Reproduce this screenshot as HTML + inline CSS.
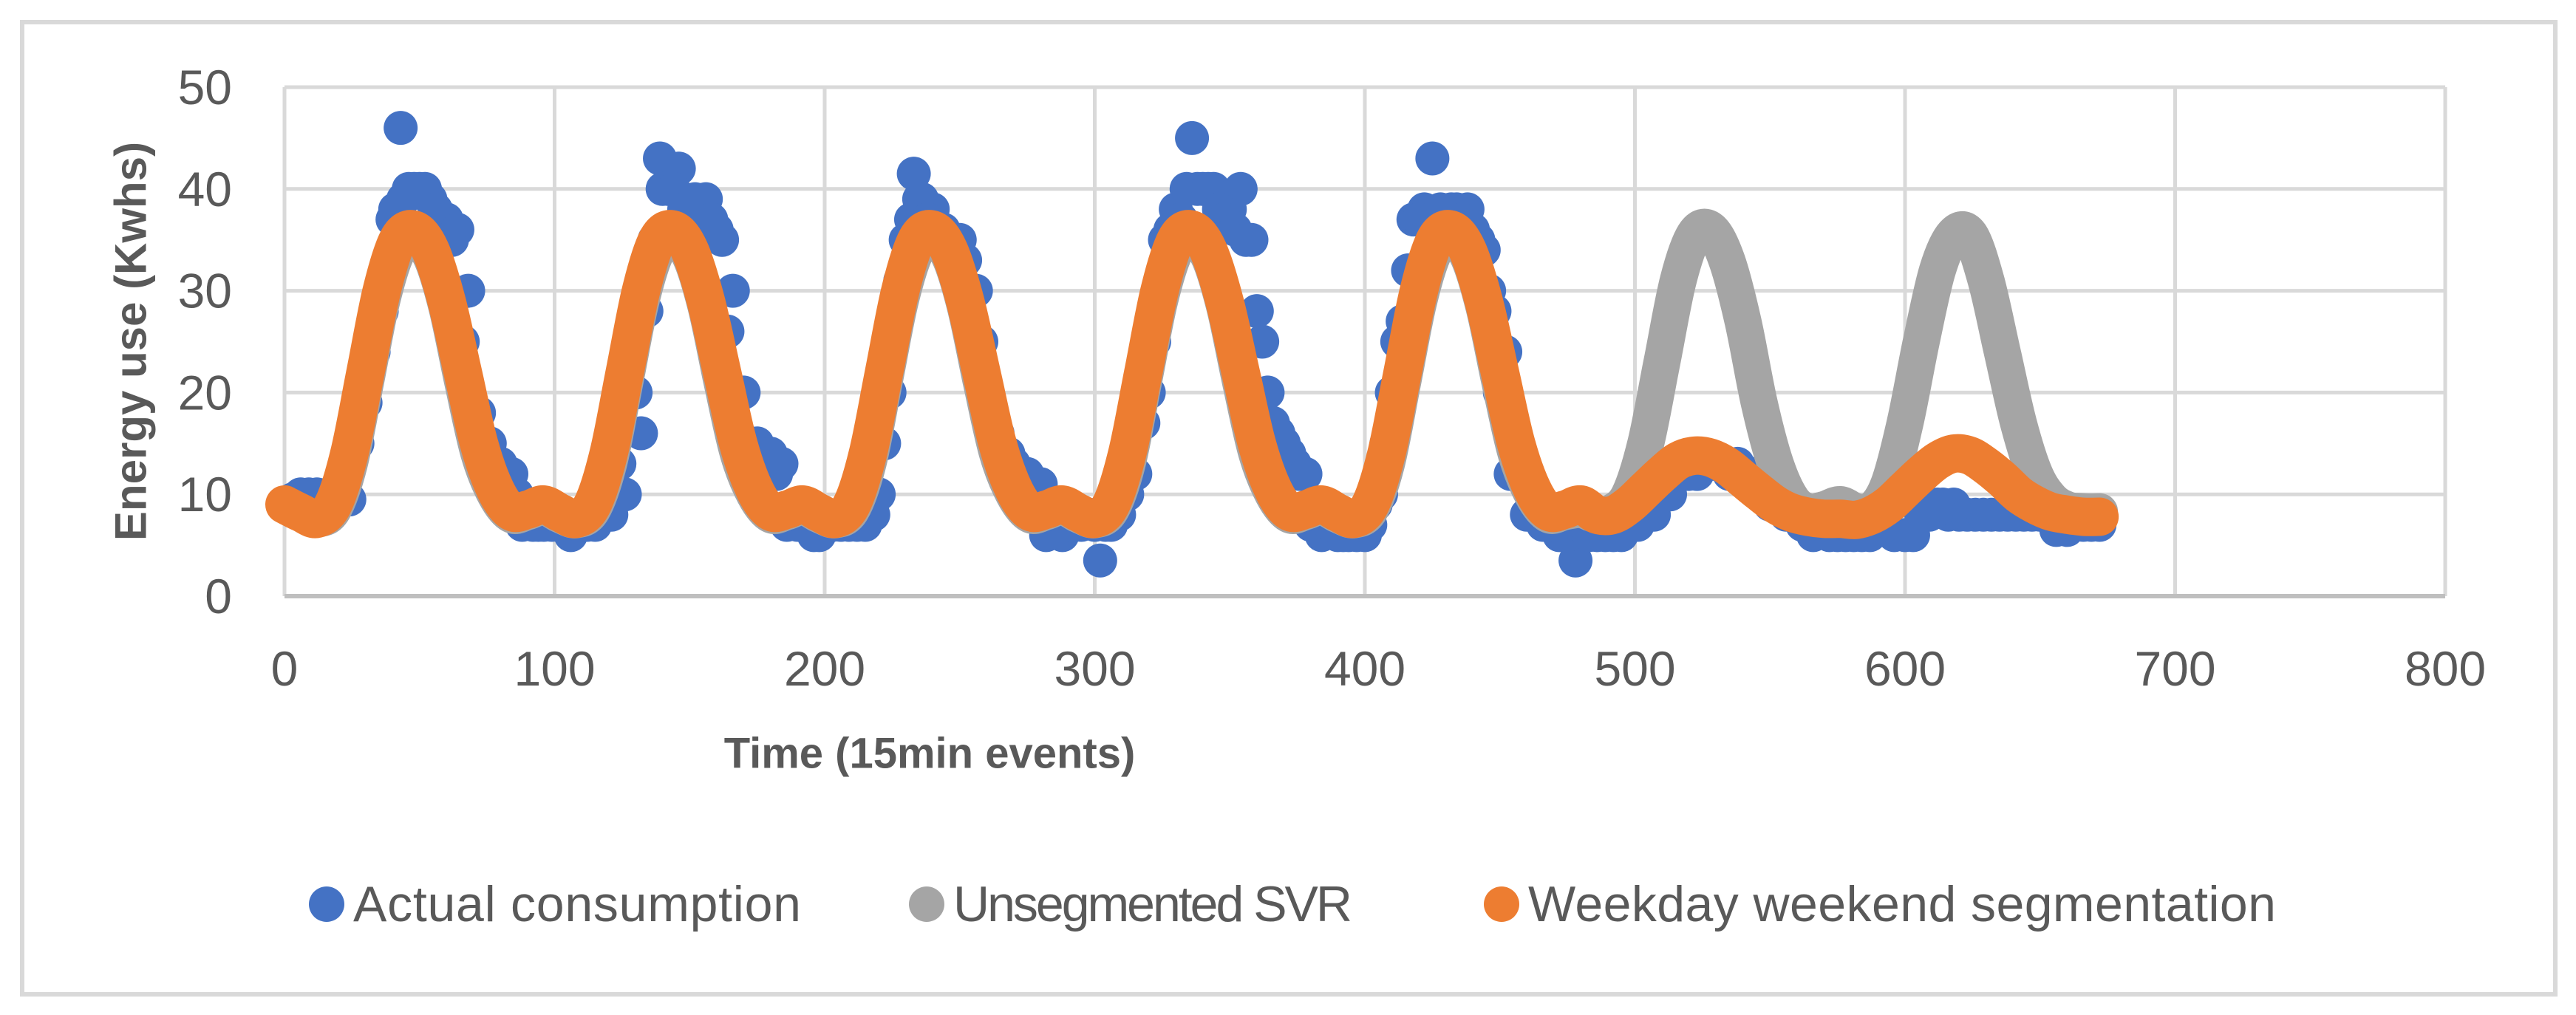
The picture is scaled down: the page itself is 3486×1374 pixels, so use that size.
<!DOCTYPE html>
<html><head><meta charset="utf-8"><style>
html,body{margin:0;padding:0;background:#fff}
svg{display:block}
text{font-family:"Liberation Sans",sans-serif;fill:#595959}
</style></head><body>
<svg id="chart" width="3486" height="1374" viewBox="0 0 3486 1374">
<rect x="30" y="30" width="3428" height="1316" fill="#fff" stroke="#d9d9d9" stroke-width="6"/>
<g id="grid"></g>
<g id="series"></g>
<g id="ticks"></g>
<text x="177" y="462" transform="rotate(-90 177 462)" text-anchor="middle" dominant-baseline="central" font-size="60" font-weight="bold">Energy use (Kwhs)</text>
<text x="1258" y="1020" text-anchor="middle" dominant-baseline="central" font-size="58" font-weight="bold">Time (15min events)</text>
<g>
<g><circle cx="442" cy="1224" r="24" fill="#4472c4"/><text x="478" y="1224" dominant-baseline="central" font-size="68" textLength="606">Actual consumption</text></g>
<g><circle cx="1254" cy="1224" r="24" fill="#a5a5a5"/><text x="1290" y="1224" dominant-baseline="central" font-size="68" textLength="540">Unsegmented SVR</text></g>
<g><circle cx="2032" cy="1224" r="24" fill="#ed7d31"/><text x="2068" y="1224" dominant-baseline="central" font-size="68" textLength="1012">Weekday weekend segmentation</text></g>
</g>
</svg>
<script>
const xTicks=[0,100,200,300,400,500,600,700,800];
const yTicks=[0,10,20,30,40,50];
const blueX=[0,6,12,18,24,30,36,40,43,46,50,54,58,62,66,70,74,78,84,88,92,
96,102,106,112,118,124,128,132,136,139,142,146,150,156,160,164,168,172,178,182,186,190,
196,200,206,212,218,222,226,230,233,236,240,244,250,256,260,266,272,278,282,288,
292,298,302,306,312,318,322,326,330,334,336,340,344,350,354,358,362,366,372,376,380,384,390,
394,400,404,408,414,418,422,425,430,434,438,442,446,450,454,460,466,472,478,480,
486,492,498,504,510,516,520,526,532,538,544,550,556,562,566,572,578,584,590,596,600,606,612,616,620,626,632,638,644,650,656,660,666,672];
const blueY=[9,10,10,10,9.5,19,28,37,46,40,40,39,37,35,25,16,14,13,12,7,7,
7,7,6,7,8,13,24,16,33,43,40,42,38,39,36,26,16,15,13,12,7,7,
6,7,7,7,8,15,28,35,41.5,39,38,36,35,30,20,14,12,10,6,6,
7,8,3.5,7,10,17,25,35,38,40,45,40,40,38,40,35,25,17,14,12,7,6,6,
6,6,9,15,27,37,38,43,37,38,38,35,30,20,12,8,7,6,3.5,6,
6,6,7,9,11,13,12,13,13,13,12,9,8,7,6,6,6,6,7,6,6,8,9,8,8,8,8,8,8,8,6.5,6.5,7,7];
const blueX2=[3,9,15,21,27,33,38,41,44,48,52,56,60,64,68,72,76,80,82,86,90,94,
99,104,109,115,121,126,130,134,137,140,144,148,152,154,158,162,166,170,175,180,184,188,
194,198,203,209,215,220,224,228,232,235,238,242,246,248,252,254,258,262,264,268,270,275,280,285,
295,300,304,309,315,320,324,328,332,338,342,346,348,352,356,360,364,368,370,374,378,382,387,
392,397,402,406,410,412,416,420,428,432,436,440,444,448,452,456,458,462,464,468,470,475,
483,489,495,501,507,513,523,529,535,541,547,553,559,569,575,581,587,593,603,609,614,618,623,629,635,641,647,653,663,669];
const blueY2=[9.5,10,9.5,10,15,24,32,38,39,40,40,38,37,36,30,18,15,13,12,10,8,7,
7,7,7,7,8,10,20,28,35,40,40,38,39,38,37,35,30,20,15,14,13,8,
7,6,7,7,7,10,20,31,37,39,37,36,35,34,33,30,25,18,16,14,13,12,11,8,
7,7,7,8,12,20,30,36,37,40,40,38,37,36,35,28,20,16,15,13,12,8,7,
6,6,7,10,20,25,32,37,38,38,37,36,34,28,24,15,12,10,9,8,7,6,
6,6,6,7,8,10,12,13,12,12,11,10,9,7,6,6,6,7,6,8,9,9,8,8,8,8,8,8,7,7];
const lineX=[0,6,12,18,24,30,36,42,48,54,60,66,72,78,84,90,
96,102,108,114,120,126,132,138,144,150,156,162,168,174,180,186,
192,198,204,210,216,222,228,234,240,246,252,258,264,270,276,282,
288,294,300,306,312,318,324,330,336,342,348,354,360,366,372,378,
384,390,396,402,408,414,420,426,432,438,444,450,456,462,468,474,
480,486,492,498,504,510,516,522,528,534,540,546,552,558,564,570,576,582,588,594,600,606,612,618,624,630,636,642,648,654,660,666,672];
const orangeY=[9,8.2,7.6,9,14,22,30,35,36,34,29,22,15,10.5,8.3,8.5,
9,8.2,7.6,9,14,22,30,35,36,34,29,22,15,10.5,8.3,8.5,
9,8.2,7.6,9,14,22,30,35,36,34,29,22,15,10.5,8.3,8.5,
9,8.2,7.6,9,14,22,30,35,36,34,29,22,15,10.5,8.3,8.5,
9,8.2,7.6,9,14,22,30,35,36,34,29,22,15,10.5,8.3,8.5,
9,8,8,9,10.5,12,13.3,13.8,13.6,12.8,11.5,10.2,9,8.2,7.8,7.6,7.6,7.5,8,9,10.5,12,13.3,14,13.8,12.8,11.5,10,9,8.3,8,7.8,7.8];
const grayY=[9,8.2,7.6,8.5,13,21,29,34,35,33.5,28.5,21,14,10,8,8.3,
8.8,8,7.5,8.5,13,21,29,34,35,33.5,28.5,21,14,10,8,8.3,
8.8,8,7.5,8.5,13,21,29,34,35,33.5,28.5,21,14,10,8,8.3,
8.8,8,7.5,8.5,13,21,29,34,35,33.5,28.5,21,14,10,8,8.3,
8.8,8,7.5,8.5,13,21,29,34,35,33.5,28.5,21,14,10,8,8.3,
8.5,8,8.3,10,15,23,31,35.5,36,33,27,19,13,9.5,8.3,8.5,9,8.3,8.5,11,17,25,32,35.5,35.5,31,24,17,12,9.5,8.5,8.3,8.3];
const NS='http://www.w3.org/2000/svg';
function sx(v){return 385+v*(3309-385)/800;}
function sy(v){return 807-v*(807-118)/50;}
const grid=document.getElementById('grid'),ticks=document.getElementById('ticks'),series=document.getElementById('series');
function mk(tag,attrs,parent){const e=document.createElementNS(NS,tag);for(const k in attrs)e.setAttribute(k,attrs[k]);parent.appendChild(e);return e;}
xTicks.forEach(t=>{
 const l=mk('line',{x1:sx(t),x2:sx(t),y1:sy(50),y2:sy(0),stroke:'#d9d9d9','stroke-width':5},grid);
 
 
 const tx=mk('text',{x:sx(t),y:905,'text-anchor':'middle','dominant-baseline':'central','font-size':66},ticks);
 tx.textContent=t;
 
 
});
yTicks.forEach(t=>{
 const l=mk('line',{x1:sx(0),x2:sx(800),y1:sy(t),y2:sy(t),stroke:t===0?'#bfbfbf':'#d9d9d9','stroke-width':t===0?6:5},grid);
 
 
 const tx=mk('text',{x:314,y:sy(t),'text-anchor':'end','dominant-baseline':'central','font-size':66},ticks);
 tx.textContent=t;
 
 
});
const gb=mk('g',{fill:'#4472c4'},series);


blueX.forEach((x,i)=>{
 const c=mk('circle',{cx:sx(x),cy:sy(blueY[i]),r:23},gb);
 
 
});
blueX2.forEach((x,i)=>{
 const c=mk('circle',{cx:sx(x),cy:sy(blueY2[i]),r:23},gb);
 
 
});
function curve(xs,ys){
 const p=xs.map((x,i)=>[sx(x),sy(ys[i])]);
 let d='M'+p[0][0]+','+p[0][1];
 for(let i=0;i<p.length-1;i++){
  const p0=p[Math.max(0,i-1)],p1=p[i],p2=p[i+1],p3=p[Math.min(p.length-1,i+2)];
  const c1=[p1[0]+(p2[0]-p0[0])/6,p1[1]+(p2[1]-p0[1])/6],c2=[p2[0]-(p3[0]-p1[0])/6,p2[1]-(p3[1]-p1[1])/6];
  d+=' C'+c1+' '+c2+' '+p2;
 }
 return d;
}
const gg=mk('path',{d:curve(lineX,grayY),fill:'none',stroke:'#a5a5a5','stroke-width':50,'stroke-linecap':'round','stroke-linejoin':'round'},series);


const go=mk('path',{d:curve(lineX,orangeY),fill:'none',stroke:'#ed7d31','stroke-width':52,'stroke-linecap':'round','stroke-linejoin':'round'},series);


</script>
</body></html>
